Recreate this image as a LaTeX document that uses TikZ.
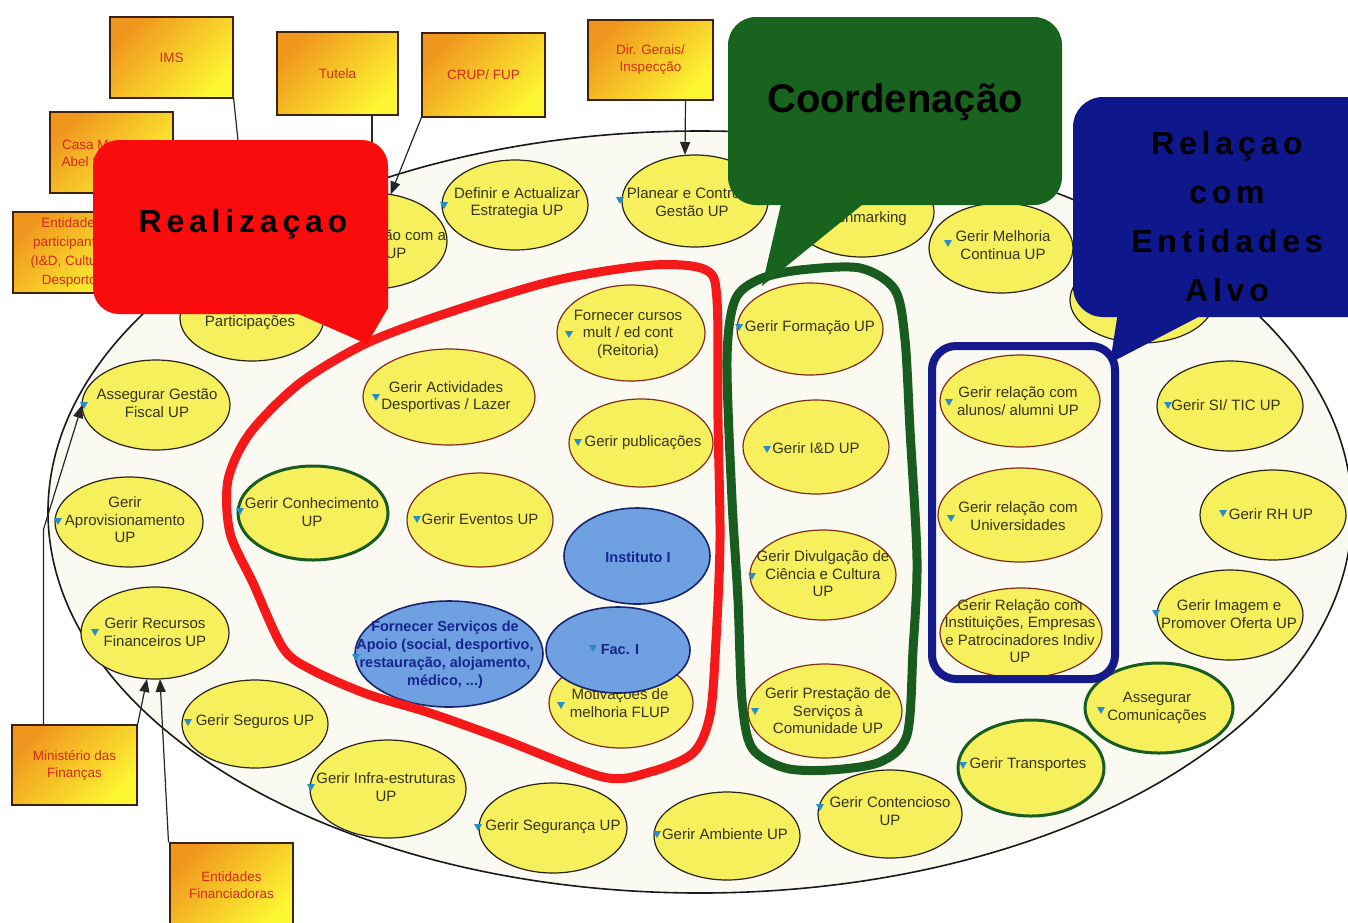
\documentclass[tikz,border=0pt]{standalone}
\usepackage{fontspec}
\setmainfont{Liberation Sans}
\usetikzlibrary{shapes.geometric,arrows.meta,calc}

\definecolor{ellyel}{RGB}{246,240,92}
\definecolor{ellline}{RGB}{40,35,20}
\definecolor{innline}{RGB}{125,45,25}
\definecolor{etxt}{RGB}{55,52,28}
\definecolor{blfill}{RGB}{110,160,226}
\definecolor{blline}{RGB}{25,35,110}
\definecolor{bltxt}{RGB}{22,36,140}
\definecolor{boxor}{RGB}{240,150,30}
\definecolor{boxmid}{RGB}{250,215,40}
\definecolor{boxye}{RGB}{253,246,50}
\definecolor{boxline}{RGB}{60,35,10}
\definecolor{boxtxt}{RGB}{212,42,22}
\definecolor{callred}{RGB}{250,12,12}
\definecolor{callgreen}{RGB}{24,100,30}
\definecolor{callblue}{RGB}{14,24,140}
\definecolor{redline}{RGB}{245,25,25}
\definecolor{greenline}{RGB}{25,92,32}
\definecolor{blueline}{RGB}{20,25,140}
\definecolor{mkblue}{RGB}{40,140,200}
\definecolor{ringbg}{RGB}{251,250,242}

\tikzset{
  yel/.style={ellipse, draw=ellline, line width=1.2pt, fill=ellyel, inner sep=0pt, outer sep=0pt},
  yin/.style={yel, draw=innline},
  ygr/.style={yel, draw=greenline, line width=3pt},
  blu/.style={ellipse, draw=blline, line width=1.6pt, fill=blfill, inner sep=0pt, outer sep=0pt},
  etext/.style={align=center, text=etxt, inner sep=0pt, font=\fontsize{15}{17.5}\selectfont},
  btext/.style={align=center, text=bltxt, inner sep=0pt, font=\bfseries\fontsize{14.5}{18}\selectfont},
  obox/.style={draw=boxline, line width=1.3pt, top color=boxor, middle color=boxmid, bottom color=boxye, shading angle=45, inner sep=0pt},
  otext/.style={align=center, text=boxtxt, inner sep=0pt, font=\fontsize{13.5}{17}\selectfont},
  conn/.style={draw=black!85, line width=1.2pt},
  arr/.style={conn, -{Triangle[length=13pt,width=10pt]}},
  mk/.pic={\fill[mkblue] (-4,-3) -- (4,-3) -- (0,4) -- cycle;},
  bigtxt/.style={text=black, inner sep=0pt, align=center},
}

% ellipse process: [style]{name}{cx}{cy}{rx}{ry}{text position}{text}
\newcommand{\procnode}[8][yel]{%
  \node[#1, minimum width=2*#5, minimum height=2*#6] (#2) at (#3,#4) {};
  \node[etext] (#2t) at #7 {#8};}

\begin{document}
\begin{tikzpicture}[x=1pt,y=-1pt]
\useasboundingbox (0,0) rectangle (1348,922);
\fill[white] (0,0) rectangle (1348,922);

% the organisation
\node[ellipse, draw=black!90, line width=1.6pt, fill=ringbg, minimum width=1304, minimum height=762, inner sep=0pt] (ring) at (700,512) {};

% processes along the ring
\procnode{ocom}{372}{241}{75}{48}{(396,244)}{Relação com a\\UP}
\procnode{defin}{515}{205}{73}{45}{(517,203)}{Definir e Actualizar\\Estrategia UP}
\procnode{plan}{695}{201}{73}{46}{(692,202)}{Planear e Controlar\\Gestão UP}
\procnode{bench}{862}{212}{72}{45}{(862,212)}{}
\node[etext, anchor=east] (benchtxt) at (907,219) {Benchmarking};
\procnode{melh}{1001}{248}{72}{45}{(1003,245)}{Gerir Melhoria\\Continua UP}
\procnode{hid}{1142}{300}{72}{43}{(1142,300)}{}
\procnode{part}{252}{318}{72}{43}{(250,314)}{Gerir\\Participações}
\procnode{fisc}{156}{405}{74}{45}{(157,403)}{Assegurar Gestão\\Fiscal UP}
\procnode{aprov}{129}{522}{74}{45}{(125,520)}{Gerir\\Aprovisionamento\\UP}
\procnode{recf}{155}{633}{74}{46}{(155,632)}{Gerir Recursos\\Financeiros UP}
\procnode{seg}{255}{724}{73}{44}{(255,722)}{Gerir Seguros UP}
\procnode{infra}{388}{789}{78}{49}{(386,787)}{Gerir Infra-estruturas\\UP}
\procnode{segur}{553}{828}{74}{45}{(553,827)}{Gerir Segurança UP}
\procnode{amb}{727}{836}{73}{44}{(725,834)}{Gerir Ambiente UP}
\procnode{cont}{890}{814}{72}{44}{(890,811)}{Gerir Contencioso\\UP}
\procnode[ygr]{transp}{1031}{768}{73}{48}{(1028,765)}{Gerir Transportes}
\procnode[ygr]{comun}{1159}{708}{74}{45}{(1157,708)}{Assegurar\\Comunicações}
\procnode{imag}{1230}{615}{73}{45}{(1229,614)}{Gerir Imagem e\\Promover Oferta UP}
\procnode{rh}{1273}{515}{73}{45}{(1271,514)}{Gerir RH UP}
\procnode{si}{1230}{406}{73}{45}{(1226,405)}{Gerir SI/ TIC UP}

% processes of the three groups
\procnode[yin]{curs}{631}{333}{74}{48}{(628,334)}{Fornecer cursos\\mult / ed cont\\(Reitoria)}
\procnode[yin]{desp}{449}{397}{86}{48}{(446,397)}{Gerir Actividades\\Desportivas / Lazer}
\procnode[yin]{publ}{641}{443}{72}{44}{(643,443)}{Gerir publicações}
\procnode[ygr]{conh}{313}{513}{75}{47}{(312,512)}{Gerir Conhecimento\\UP}
\procnode[yin]{event}{480}{520}{73}{47}{(480,519)}{Gerir Eventos UP}
\procnode[yin]{motiv}{621}{703}{72}{45}{(620,703)}{Motivações de\\melhoria FLUP}
\node[blu, minimum width=146, minimum height=96] (inst) at (637,556) {};
\node[btext] (instt) at (638,557) {Instituto I};
\node[blu, minimum width=144, minimum height=86] (fac) at (618,650) {};
\node[btext] (fact) at (620,650) {Fac. I};
\node[blu, minimum width=188, minimum height=106] (forn) at (449,654) {};
\node[btext] (fornt) at (445,655) {Fornecer Serviços de\\Apoio (social, desportivo,\\restauração, alojamento,\\médico, ...)};

\procnode[yin]{form}{810}{329}{73}{46}{(810,328)}{Gerir Formação UP}
\procnode[yin]{id}{816}{447}{73}{47}{(816,448)}{Gerir I\&D UP}
\procnode[yin]{divul}{823}{575}{73}{45}{(823,574)}{Gerir Divulgação de\\Ciência e Cultura\\UP}
\procnode[yin]{prest}{825}{711}{77}{47}{(828,711)}{Gerir Prestação de\\Serviços à\\Comunidade UP}

\procnode[yin]{alun}{1020}{401}{80}{46}{(1018,401)}{Gerir relação com\\alunos/ alumni UP}
\procnode[yin]{univ}{1020}{515}{82}{47}{(1018,516)}{Gerir relação com\\Universidades}
\procnode[yin]{inst2}{1021}{633}{81}{45}{(1020,631)}{Gerir Relação com\\Instituições, Empresas\\e Patrocinadores Indiv\\UP}

% hand-drawn group outlines
\draw[redline, line width=9pt, line join=round] plot[smooth cycle, tension=0.5] coordinates {
  (300,383) (367,343) (450,312) (557,280) (653,265) (706,270) (717,300) (718,420)
  (720,540) (716,640) (710,715) (693,753) (650,772) (603,777) (500,738) (430,713)
  (367,694) (312,670) (283,648) (253,583) (230,533) (228,480) (250,433)};
\draw[greenline, line width=9pt, line join=round] plot[smooth cycle, tension=0.5] coordinates {
  (727,360) (735,300) (760,279) (800,270) (860,268) (895,290) (905,340) (910,430)
  (917,560) (913,650) (907,735) (880,762) (830,770) (785,768) (752,748) (742,700)
  (738,600) (732,500)};
\draw[blueline, line width=8pt, rounded corners=24] (932,346) rectangle (1115,679);

% markers
\foreach \mx/\my in {444/205, 620/200, 948/243, 84/405, 58/521, 95/632, 188/722,
  311/787, 478/827, 657/834, 820/807, 963/765, 1101/710, 1156/613, 1223/513, 1168/405,
  569/334, 376/397, 578/442, 240/511, 417/519, 561/705, 593/648, 356/657,
  739/327, 767/449, 752/576, 755/711, 949/402, 951/518}
  \pic at (\mx,\my) {mk};

% relations with outside entities
\node[obox, otext, minimum width=123, minimum height=81] (ims) at (171.5,57.5) {IMS};
\node[obox, otext, minimum width=121, minimum height=83] (tut) at (337.5,73.5) {Tutela};
\node[obox, otext, minimum width=123, minimum height=84] (crup) at (483.5,75) {CRUP/ FUP};
\node[obox, otext, minimum width=125, minimum height=80] (dir) at (650.5,60) {Dir. Gerais/\\Inspecção};
\node[obox, minimum width=123, minimum height=81] (casa) at (111.5,152.5) {};
\node[otext] (casat) at (100,153) {Casa Museu\\Abel Salazar};
\node[obox, otext, font=\fontsize{13.5}{19}\selectfont, minimum width=117, minimum height=81] (entp) at (71.5,252.5) {Entidades\\participantes\\(I\&D, Cultura,\\Desporto)};
\node[obox, otext, minimum width=125, minimum height=80] (min) at (74.5,765) {Ministério das\\Finanças};
\node[obox, otext, minimum width=123, minimum height=84] (entf) at (231.5,885) {Entidades\\Financiadoras};

\draw[arr] (ims.south east) -- (part.north);
\draw[arr] (tut.south -| ocom.north) -- (ocom.north);
\draw[arr] (crup.south west) -- (ocom);
\draw[arr] ([xshift=35pt]dir.south) -- ([xshift=-10pt]plan.north);
\draw[arr] ([xshift=-31pt]min.north) -- ++(0,-195) -- (fisc.west);
\draw[arr] (min.north east) -- ([xshift=-8pt]recf.south);
\draw[arr] ([xshift=-63pt]entf.north) -- ([xshift=5pt]recf.south);

% group call-outs
\fill[callred, rounded corners=26] (93,140) rectangle (388,314);
\fill[callred] (296,313) -- (388,280) -- (388,308) -- (367,344) -- cycle;
\node[bigtxt, anchor=base, font={\bfseries\fontsize{32}{36}\selectfont\addfontfeature{LetterSpace=15}}] (realt) at (243,232) {Realizaçao};

\fill[callgreen, rounded corners=28] (728,17) rectangle (1062,205);
\fill[callgreen] (782,200) -- (868,200) -- (762,286) -- cycle;
\node[bigtxt, anchor=base, font={\bfseries\fontsize{40}{44}\selectfont}] (coordt) at (895,112) {Coordenação};

\fill[callblue, rounded corners=30] (1073,97) rectangle (1390,317);
\fill[callblue] (1118,312) -- (1208,312) -- (1110,363) -- cycle;
\node[bigtxt, font={\bfseries\fontsize{32}{49}\selectfont\addfontfeature{LetterSpace=15}}] (relt) at (1227,217) {Relaçao\\com\\Entidades\\Alvo};
\end{tikzpicture}
\end{document}
